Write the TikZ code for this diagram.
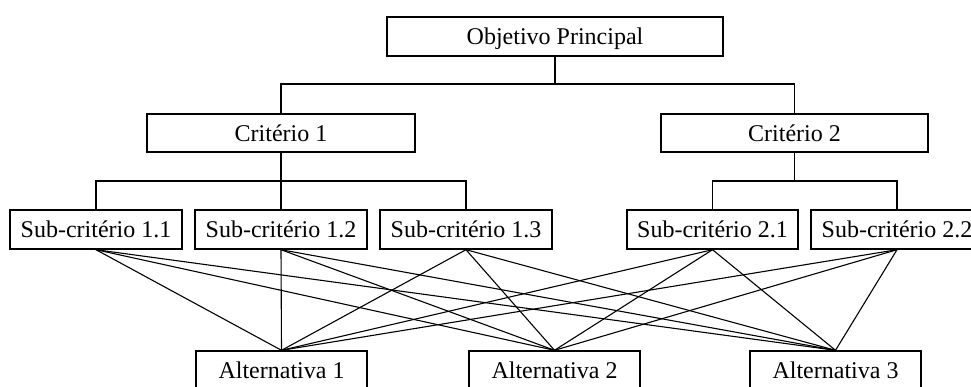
\documentclass[tikz,border=0pt]{standalone}
\usepackage{fontspec}
\setmainfont{Liberation Serif}
\begin{document}
\begin{tikzpicture}[x=1pt,y=-1pt,
  box/.style={draw,line width=1.4pt,inner sep=0pt,minimum height=39pt,
    text height=16pt,text depth=0pt,font=\fontsize{24}{28}\selectfont},
  link/.style={line width=1.1pt}]
\useasboundingbox (0,0) rectangle (971,386);
\node[box,minimum width=336pt] (obj) at (555,36.5) {Objetivo Principal};
\node[box,minimum width=268pt,minimum height=38pt] (c1) at (281,133) {Critério 1};
\node[box,minimum width=267pt,minimum height=38pt] (c2) at (794.5,133) {Critério 2};
\node[box,minimum width=172pt] (s11) at (96,229.5) {Sub-critério 1.1};
\node[box,minimum width=172pt] (s12) at (281,229.5) {Sub-critério 1.2};
\node[box,minimum width=172pt] (s13) at (466,229.5) {Sub-critério 1.3};
\node[box,minimum width=171pt] (s21) at (712.5,229.5) {Sub-critério 2.1};
\node[box,minimum width=172pt] (s22) at (897,229.5) {Sub-critério 2.2};
\node[box,minimum width=171pt] (a1) at (281.5,370.5) {Alternativa 1};
\node[box,minimum width=171pt] (a2) at (554.5,370.5) {Alternativa 2};
\node[box,minimum width=171pt] (a3) at (835.5,370.5) {Alternativa 3};
\coordinate (b0) at (555,84);
\coordinate (b1) at (281,181);
\coordinate (b2) at (794.5,181);
\draw[link] (obj.south) -- (b0);
\draw[link] (c1.north) |- (b0) -| (c2.north);
\draw[link] (c1.south) -- (s12.north);
\draw[link] (s11.north) |- (b1) -| (s13.north);
\draw[link] (c2.south) -- (b2);
\draw[link] (s21.north) |- (b2) -| (s22.north);
\foreach \s in {s11,s12,s13,s21,s22}
  \foreach \a in {a1,a2,a3}
    \draw[link] (\s.south) -- (\a.north);
\end{tikzpicture}
\end{document}
